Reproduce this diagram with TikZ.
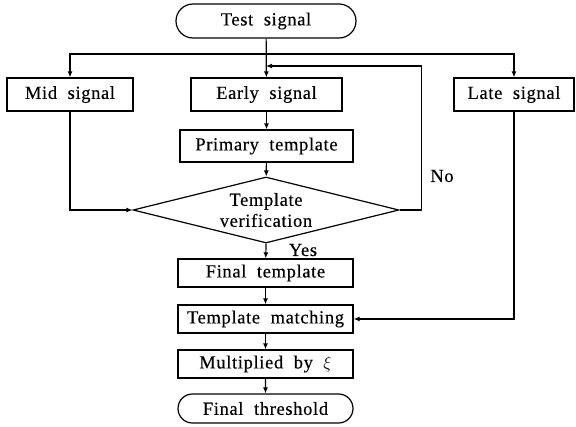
\documentclass[tikz,border=0pt]{standalone}
\usepackage{fontspec}
\setmainfont{Liberation Serif}[LetterSpace=3.5, WordSpace=2, FakeBold=0.35]
\usetikzlibrary{arrows.meta, shapes.geometric, shapes.misc}
\tikzset{
  flow/.style={draw, line width=1.2pt, -{Latex[length=6pt,width=5pt]}},
  stepbox/.style={draw, line width=1.2pt, rectangle, inner sep=0pt, minimum width=#1, minimum height=32pt},
  stepbox/.default=175pt,
  termbox/.style={draw, line width=1.2pt, rounded rectangle, inner sep=0pt, minimum width=#1},
  checkbox/.style={draw, line width=1.2pt, diamond, aspect=4, inner sep=0pt, minimum width=266pt, minimum height=66pt, align=center}
}

\begin{document}
\begin{tikzpicture}[x=1pt, y=-1pt, font=\fontsize{18.5}{20}\selectfont]
\useasboundingbox (0,0) rectangle (576,426);
% top row
\node[termbox=180pt, minimum height=34pt] (test) at (266,21) {Test signal};
\node[stepbox=126pt, minimum height=33pt] (mid) at (70,94.5) {Mid signal};
\node[stepbox=151pt, minimum height=33pt] (early) at (266.5,94.5) {Early signal};
\node[stepbox=120pt, minimum height=33pt] (late) at (514,94.5) {Late signal};
% middle column
\node[stepbox=173pt] (prim) at (266.5,146) {Primary template};
\node[checkbox] (verif) at (266,210) {Template\\[1pt]verification};
\node[stepbox, minimum height=28pt] (final) at (265.5,273) {Final template};
\node[stepbox, minimum height=28pt] (match) at (265.5,319) {Template matching};
\node[stepbox, minimum height=28pt] (mult) at (265.5,364) {Multiplied by $\xi$};
\node[termbox=175pt, minimum height=29pt] (thresh) at (265.5,408.5) {Final threshold};
\coordinate (split) at (266,54);
\coordinate (back) at (266,66);
% connectors
\draw[flow] (test) -- (early);
\draw[flow] (split) -| (mid.north);
\draw[flow] (split) -| (late.north);
\draw[flow] (verif.east) -- ++(22,0) |- (back);
\node (no) at (442,176) {No};
\draw[flow] (early) -- (prim);
\draw[flow] (prim) -- (verif);
\draw[flow] (mid.south) |- (verif.west);
\draw[flow] (verif.south) -- (final);
\node (yes) at (303,250) {Yes};
\draw[flow] (final) -- (match);
\draw[flow] (match) -- (mult);
\draw[flow] (mult) -- (thresh);
\draw[flow] (late.south) |- (match.east);
\end{tikzpicture}
\end{document}
